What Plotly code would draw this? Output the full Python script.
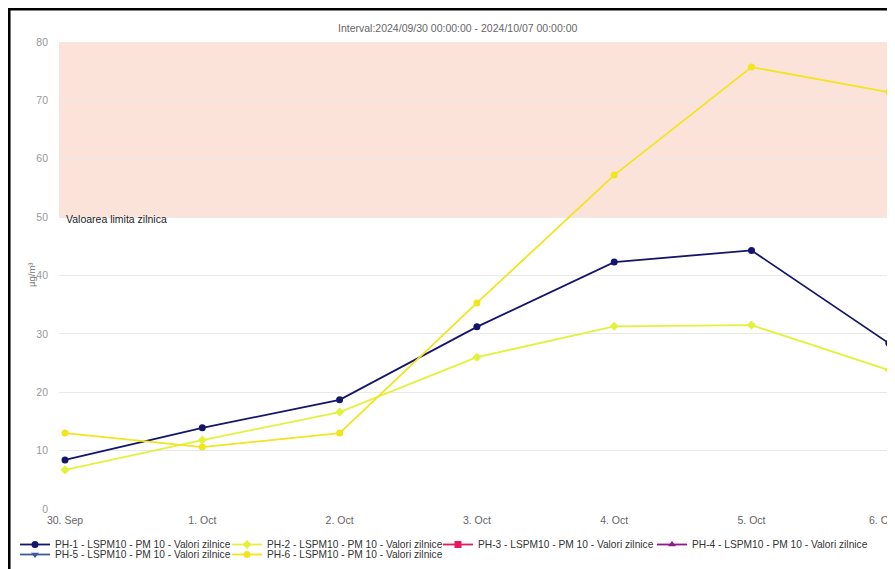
import plotly.graph_objects as go

dates = ["2024-09-30", "2024-10-01", "2024-10-02", "2024-10-03",
         "2024-10-04", "2024-10-05", "2024-10-06"]
tick_labels = ["30. Sep", "1. Oct", "2. Oct", "3. Oct", "4. Oct", "5. Oct", "6. Oct"]
edge_label = "6. Oc"  # last tick label, cut off by the right edge in the reference

ph1 = [8.4, 13.9, 18.7, 31.2, 42.3, 44.3, 28.4]
ph2 = [6.7, 11.8, 16.6, 26.0, 31.3, 31.5, 23.8]
ph3 = [None] * 7
ph4 = [None] * 7
ph5 = [None] * 7
ph6 = [13.0, 10.6, 13.0, 35.3, 57.2, 75.7, 71.4]

limit_low = 50
limit_high = 80
y_ticks = [0, 10, 20, 30, 40, 50, 60, 70, 80]

suffix = " - LSPM10 - PM 10 - Valori zilnice"
# name, values, colour, marker symbol, legend column, legend row
series = [
    ("PH-1", ph1, "#15156a", "circle", 0, 0),
    ("PH-2", ph2, "#e2f23c", "diamond", 1, 0),
    ("PH-3", ph3, "#e8175d", "square", 2, 0),
    ("PH-4", ph4, "#8b1a8b", "triangle-up", 3, 0),
    ("PH-5", ph5, "#3c5c9c", "triangle-down", 0, 1),
    ("PH-6", ph6, "#f2e41f", "circle", 1, 1),
]

# page body adds an 8px offset; work in reference pixels and shift
OFF = 8
W, H = 895 - OFF, 569 - OFF
L, R, T, B = 59 - OFF, 0, 42 - OFF, 569 - 509
pw, ph = W - L - R, H - T - B

def px_x(p):
    return (p - OFF - L) / pw

def px_y(p):
    return 1 - (p - OFF - T) / ph

col_text_x = [55, 267, 478, 692]
row_top_y = [530, 540]

fig = go.Figure()
legends = {}
for i, (name, vals, color, sym, col, row) in enumerate(series):
    lg = "legend" if i == 0 else f"legend{i + 1}"
    fig.add_trace(go.Scatter(
        x=dates, y=vals, name=name + suffix,
        mode="lines+markers", legend=lg,
        line=dict(color=color, width=1.8),
        marker=dict(color=color, size=7, symbol=sym),
    ))
    legends[lg] = dict(x=px_x(col_text_x[col] - 40), y=px_y(row_top_y[row]),
                       xanchor="left", yanchor="top", orientation="v",
                       font=dict(size=10.2, color="#333333"),
                       bgcolor="rgba(0,0,0,0)")

fig.add_hrect(y0=limit_low, y1=limit_high, fillcolor="#fce3d9", line_width=0, layer="below")

fig.add_annotation(x=px_x(64), y=limit_low, xref="paper", yref="y",
                   text="Valoarea limita zilnica", showarrow=False,
                   xanchor="left", yanchor="middle", yshift=-1.5,
                   font=dict(size=10.5, color="#222222"))
fig.add_annotation(x=px_x(458), y=px_y(28), xref="paper", yref="paper",
                   text="Interval:2024/09/30 00:00:00 - 2024/10/07 00:00:00",
                   showarrow=False, xanchor="center", yanchor="middle",
                   font=dict(size=10.5, color="#666666"))
fig.add_annotation(x=px_x(31), y=px_y(275), xref="paper", yref="paper",
                   text="µg/m³", textangle=-90, showarrow=False,
                   xanchor="center", yanchor="middle",
                   font=dict(size=9.5, color="#777777"))
fig.add_annotation(x=px_x(867), y=px_y(520), xref="paper", yref="paper",
                   text=edge_label, showarrow=False,
                   xanchor="left", yanchor="middle",
                   font=dict(size=10.5, color="#666666"))

# black frame edges (left and top) at the page edge
fig.add_shape(type="line", xref="paper", yref="paper",
              x0=px_x(8.8), x1=px_x(8.8), y0=px_y(7), y1=px_y(580),
              line=dict(color="black", width=3.5))
fig.add_shape(type="line", xref="paper", yref="paper",
              x0=px_x(7), x1=px_x(900), y0=px_y(8.8), y1=px_y(8.8),
              line=dict(color="black", width=3.5))

fig.update_layout(
    width=W, height=H,
    margin=dict(l=L, r=R, t=T, b=B),
    paper_bgcolor="white", plot_bgcolor="white",
    font=dict(family="Liberation Sans, Arial, sans-serif", size=10.5, color="#333333"),
    showlegend=True,
    xaxis=dict(range=["2024-09-29 22:57", "2024-10-06 01:05"],
               tickvals=dates, ticktext=tick_labels, showgrid=False,
               showline=False, zeroline=False, ticks="", ticklabelstandoff=3,
               tickfont=dict(size=10.5, color="#666666")),
    yaxis=dict(range=[0, 80], tickvals=y_ticks, showgrid=True, gridcolor="#e9e9e9",
               zeroline=False, showline=False, ticks="", ticklabelstandoff=10,
               tickfont=dict(size=10.5, color="#999999")),
    **legends,
)

fig.write_html("out.html")
